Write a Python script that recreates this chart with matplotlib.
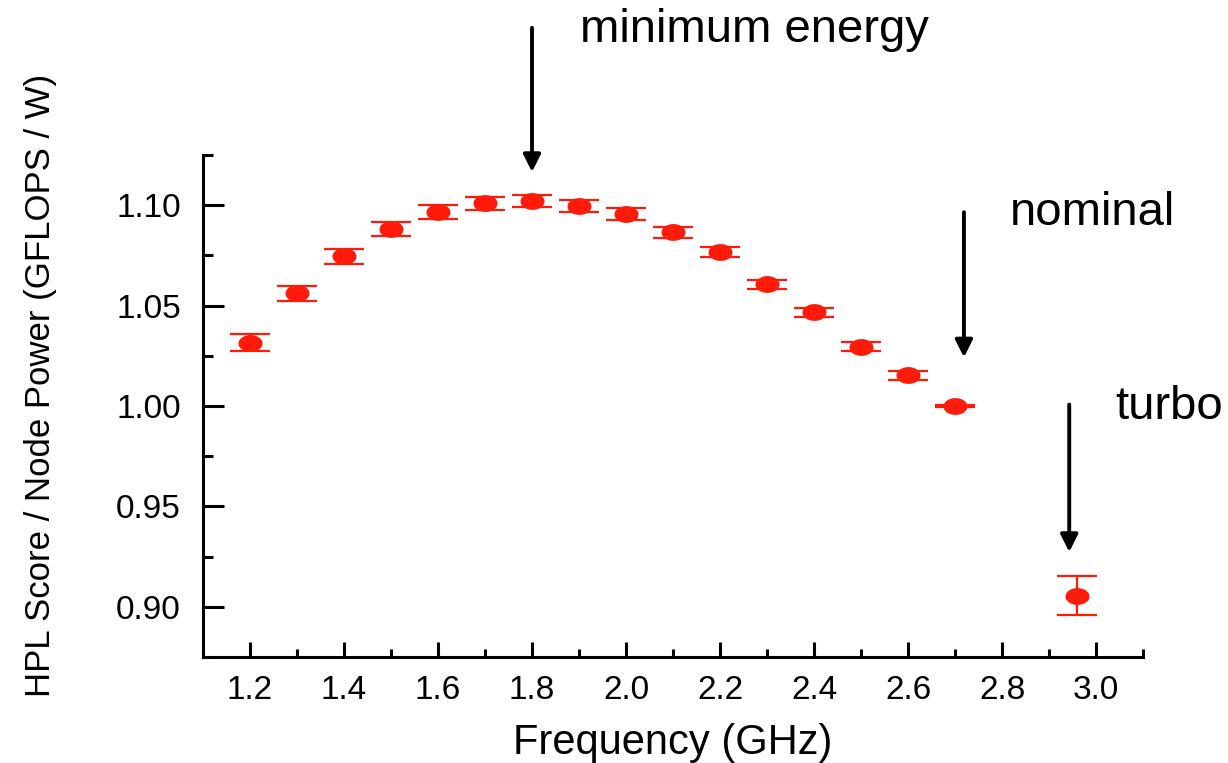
import numpy as np
import matplotlib.pyplot as plt
from matplotlib.path import Path
from matplotlib.ticker import MultipleLocator, FormatStrFormatter

plt.rcParams['font.family'] = ['Liberation Sans', 'DejaVu Sans']

# CPU frequency sweep (GHz) and HPL efficiency (GFLOPS / W), last point is turbo
freq = [1.2, 1.3, 1.4, 1.5, 1.6, 1.7, 1.8, 1.9, 2.0, 2.1, 2.2, 2.3, 2.4, 2.5,
        2.6, 2.7, 2.96]
score = [1.0316, 1.0561, 1.0745, 1.0880, 1.0965, 1.1010, 1.1020, 1.0995,
         1.0955, 1.0865, 1.0765, 1.0606, 1.0466, 1.0296, 1.0152, 1.0002,
         0.9055]
score_err = [0.0040, 0.0037, 0.0037, 0.0036, 0.0035, 0.0032, 0.0031, 0.0030,
             0.0029, 0.0027, 0.0025, 0.0023, 0.0022, 0.0021, 0.0021, 0.0005,
             0.0097]

labels = ['minimum energy', 'nominal', 'turbo']

red = '#ff1a0a'

# slightly flattened dot
t = np.linspace(0, 2 * np.pi, 64)
oval = Path(np.column_stack([np.cos(t), 0.7 * np.sin(t)]))

fig = plt.figure(figsize=(12.28, 7.63), dpi=100)
ax = fig.add_axes([0.1653, 0.1389, 0.9308 - 0.1653, 0.7969 - 0.1389])

ax.errorbar(freq, score, yerr=score_err, fmt='none', ecolor=red,
            elinewidth=1.6, capsize=14.4, capthick=1.6, zorder=3)
ax.plot(freq, score, ls='none', marker=oval, markersize=17.3,
        color=red, markeredgewidth=0, zorder=4)

ax.set_xlim(1.1, 3.1)
ax.set_ylim(0.875, 1.125)

for side in ['top', 'right']:
    ax.spines[side].set_visible(False)
for side in ['left', 'bottom']:
    ax.spines[side].set_linewidth(2.2)

ax.xaxis.set_major_locator(MultipleLocator(0.2))
ax.xaxis.set_minor_locator(MultipleLocator(0.1))
ax.yaxis.set_major_locator(MultipleLocator(0.05))
ax.yaxis.set_minor_locator(MultipleLocator(0.025))
ax.xaxis.set_major_formatter(FormatStrFormatter('%.1f'))
ax.yaxis.set_major_formatter(FormatStrFormatter('%.2f'))

ax.tick_params(axis='x', which='major', direction='in', length=11, width=2.2,
               pad=13, labelsize=24)
ax.tick_params(axis='x', which='minor', direction='in', length=5.5, width=2.2)
ax.tick_params(axis='y', which='major', direction='in', length=15, width=2.2,
               pad=16, labelsize=24)
ax.tick_params(axis='y', which='minor', direction='in', length=7.5, width=2.2)

ax.set_xlabel('Frequency (GHz)', fontsize=30, labelpad=12)
ax.set_ylabel('HPL Score / Node Power (GFLOPS / W)', fontsize=25,
              ha='center', va='center')
ax.yaxis.set_label_coords(-0.173, 0.54)

# arrows pointing at the interesting operating points
arrow = dict(arrowstyle='-|>', lw=2.8, color='black', mutation_scale=26,
             shrinkA=0, shrinkB=0)
ax.annotate('', xy=(1.8, 1.1165), xytext=(1.8, 1.1883),
            arrowprops=arrow, annotation_clip=False)
ax.annotate('', xy=(2.719, 1.0242), xytext=(2.719, 1.0965),
            arrowprops=arrow, annotation_clip=False)
ax.annotate('', xy=(2.943, 0.9273), xytext=(2.943, 1.0007),
            arrowprops=arrow, annotation_clip=False)

ax.text(1.902, 1.1813, labels[0], fontsize=34, va='baseline', clip_on=False)
ax.text(2.817, 1.0900, labels[1], fontsize=34, va='baseline', clip_on=False)
ax.text(3.040, 0.9937, labels[2], fontsize=34, va='baseline', clip_on=False)

fig.savefig('out.png', dpi=100)
